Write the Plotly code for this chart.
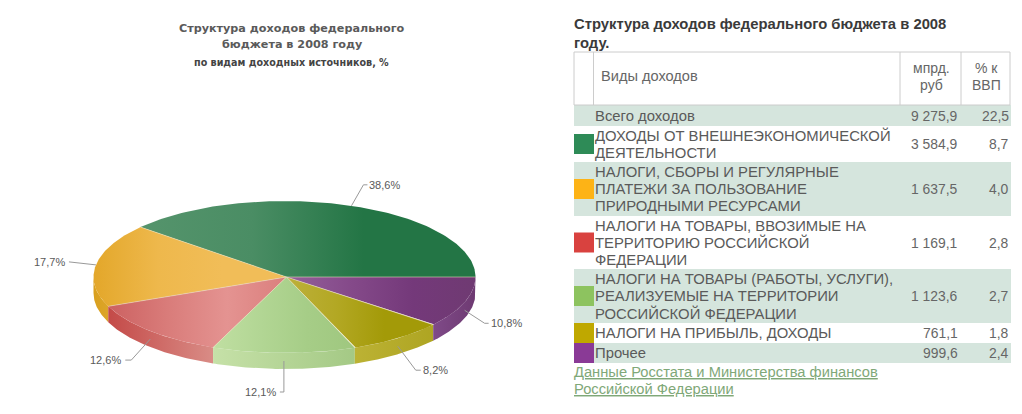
import numpy as np
import plotly.graph_objects as go

# pie data, percent of total revenue
shares = [38.6, 17.7, 12.6, 12.1, 8.2, 10.8]

# table data
table_title = ["Структура доходов федерального бюджета в 2008", "году."]
row_names = [
    ["Всего доходов"],
    ["ДОХОДЫ ОТ ВНЕШНЕЭКОНОМИЧЕСКОЙ", "ДЕЯТЕЛЬНОСТИ"],
    ["НАЛОГИ, СБОРЫ И РЕГУЛЯРНЫЕ", "ПЛАТЕЖИ ЗА ПОЛЬЗОВАНИЕ", "ПРИРОДНЫМИ РЕСУРСАМИ"],
    ["НАЛОГИ НА ТОВАРЫ, ВВОЗИМЫЕ НА", "ТЕРРИТОРИЮ РОССИЙСКОЙ", "ФЕДЕРАЦИИ"],
    ["НАЛОГИ НА ТОВАРЫ (РАБОТЫ, УСЛУГИ),", "РЕАЛИЗУЕМЫЕ НА ТЕРРИТОРИИ", "РОССИЙСКОЙ ФЕДЕРАЦИИ"],
    ["НАЛОГИ НА ПРИБЫЛЬ, ДОХОДЫ"],
    ["Прочее"],
]
row_bln = ["9 275,9", "3 584,9", "1 637,5", "1 169,1", "1 123,6", "761,1", "999,6"]
row_gdp = ["22,5", "8,7", "4,0", "2,8", "2,7", "1,8", "2,4"]

# layout: pie geometry in px, the apex sits a little right of the ellipse centre
cx, cy, rx, ry, depth = 284.5, 277, 191, 76, 16
apex_x = 286.5
FONT = "Liberation Sans"
GREY = "#5a5a5a"
PAGE_MARGIN = 8  # the page body keeps its default margin, so the axes start there

# (left colour, right colour) of the top face and of the wall
top_colors = [
    ["#55946c", "#4a8d64", "#237545", "#237545"],
    ["#e3a72a", "#eeb84c", "#f1bd58", "#f1bd58"],
    ["#cc6161", "#d97c7a", "#e49391", "#db7f7d"],
    ["#c0dfa2", "#b2d694", "#a6cd87", "#9fc77f"],
    ["#bdb03a", "#b3a824", "#a39a08", "#a39a08"],
    ["#93609a", "#854a8a", "#74397a", "#6f3a72"],
]
wall_colors = [
    ["#237545", "#237545"],
    ["#d9a01e", "#dca52a"],
    ["#c44a48", "#d98c86"],
    ["#c6e1a8", "#a4c985"],
    ["#bcb234", "#aea522"],
    ["#7f4a88", "#6e3a72"],
]
legend_colors = [None, "#2e8b57", "#fdb316", "#d9423f", "#8dc35f", "#bfa800", "#8a3a96"]

# elbow of each leader line, relative to the rim anchor, and label side
elbows = [(12, -21), (-25, -3), (-19, 21), (0, 31), (18, 24), (20, 13)]
tails = [4, -2, -6, -4, 5, 4]

fig = go.Figure()


def point(deg, drop=0):
    a = np.radians(deg)
    return cx + rx * np.cos(a), cy - ry * np.sin(a) + drop


def add_poly(xs, ys, colors):
    stops = [[i / (len(colors) - 1), c] for i, c in enumerate(colors)]
    fig.add_trace(go.Scatter(
        x=xs, y=ys, mode="lines", fill="toself", line=dict(width=0),
        fillgradient=dict(type="horizontal", colorscale=stops),
        hoverinfo="skip", showlegend=False,
    ))


edges = np.cumsum([0] + shares) * 3.6

# walls first, only the front half of the rim shows
for i in range(len(shares)):
    a0, a1 = max(edges[i], 180), min(edges[i + 1], 360)
    if a1 <= a0:
        continue
    t = np.linspace(a0, a1, 60)
    xs, ys = point(t)
    add_poly(np.r_[xs, xs[::-1], xs[0]], np.r_[ys, ys[::-1] + depth, ys[0]], wall_colors[i])

# top faces
for i in range(len(shares)):
    t = np.linspace(edges[i], edges[i + 1], 120)
    xs, ys = point(t)
    add_poly(np.r_[apex_x, xs, apex_x], np.r_[cy, ys, cy], top_colors[i])

# thin seam on the slice edges
for e in edges[:-1]:
    xe, ye = point(e)
    fig.add_trace(go.Scatter(
        x=[apex_x, xe], y=[cy, ye], mode="lines",
        line=dict(color="rgba(235,225,190,0.55)", width=1),
        hoverinfo="skip", showlegend=False,
    ))


def text(x, y, s, size=14.8, color=GREY, anchor="left", bold=False, family=FONT):
    if bold:
        s = "<b>" + s + "</b>"
    fig.add_annotation(
        x=x, y=y, text=s, showarrow=False, xanchor=anchor, yanchor="middle",
        align=anchor, borderpad=0,
        font=dict(family=family, size=size, color=color),
    )


# leader lines and pie labels
for i, v in enumerate(shares):
    mid = (edges[i] + edges[i + 1]) / 2
    drop = 8 if 180 < mid < 360 else 0
    x0, y0 = point(mid, drop)
    x1, y1 = x0 + elbows[i][0], y0 + elbows[i][1]
    x2 = x1 + tails[i]
    fig.add_trace(go.Scatter(
        x=[x0, x1, x2], y=[y0, y1, y1], mode="lines",
        line=dict(color="#999999", width=1), hoverinfo="skip", showlegend=False,
    ))
    side = "left" if tails[i] > 0 else "right"
    text(x2 + (1 if tails[i] > 0 else -3), y1, f"{v:.1f}%".replace(".", ","), size=11, anchor=side)

# chart title
text(292, 28.5, "Структура доходов федерального", size=11.2, bold=True, anchor="center", family="DejaVu Sans")
text(292, 44, "бюджета в 2008 году", size=11.2, bold=True, anchor="center", family="DejaVu Sans")
text(291, 62.5, "по видам доходных источников, %", size=9.6, bold=True, color="#444444", anchor="center", family="DejaVu Sans")

# table title
text(573, 24, table_title[0], size=14.8, bold=True, color="#3a3a3a")
text(573, 42.5, table_title[1], size=14.8, bold=True, color="#3a3a3a")

# header box
col_lines = [574, 593.5, 900, 961, 1010]
head_top, head_bottom = 52, 105
for xl in col_lines:
    fig.add_shape(type="line", x0=xl, x1=xl, y0=head_top, y1=head_bottom, line=dict(color="#cccccc", width=1))
for yl in (head_top, head_bottom):
    fig.add_shape(type="line", x0=574, x1=1010, y0=yl, y1=yl, line=dict(color="#cccccc", width=1))
text(599.5, 76, "Виды доходов", size=14.6, color="#666666")
text(931, 68, "мпрд.", size=14, color="#666666", anchor="center")
text(931, 85, "руб", size=14, color="#666666", anchor="center")
text(986, 68, "% к", size=14, color="#666666", anchor="center")
text(986, 85, "ВВП", size=14, color="#666666", anchor="center")

# table rows
row_edges = [105, 126, 162, 216, 269, 323, 343, 363]
for r, lines in enumerate(row_names):
    top, bottom = row_edges[r], row_edges[r + 1]
    mid = (top + bottom) / 2
    if r % 2 == 0:
        fig.add_shape(type="rect", x0=574, x1=1011, y0=top, y1=bottom,
                      fillcolor="#d5e5dd", line=dict(width=0), layer="below")
    if legend_colors[r]:
        fig.add_shape(type="rect", x0=574, x1=594, y0=mid - 10, y1=mid + 10,
                      fillcolor=legend_colors[r], line=dict(width=0))
    for j, line in enumerate(lines):
        text(594, mid + (j - (len(lines) - 1) / 2) * 17, line, size=14.85)
    text(958.5, mid, row_bln[r], size=13.9, anchor="right", color="#666666")
    text(1009.5, mid, row_gdp[r], size=13.9, anchor="right", color="#666666")

# source links
text(573, 372, "<u>Данные Росстата и Министерства финансов</u>", size=14.7, color="#7fa878")
text(573, 389, "<u>Российской Федерации</u>", size=14.7, color="#7fa878")

fig.update_layout(
    width=1022 - PAGE_MARGIN, height=414 - PAGE_MARGIN, margin=dict(l=0, r=0, t=0, b=0),
    paper_bgcolor="white", plot_bgcolor="white", showlegend=False,
    xaxis=dict(range=[PAGE_MARGIN, 1022], visible=False, fixedrange=True),
    yaxis=dict(range=[414, PAGE_MARGIN], visible=False, fixedrange=True),
)
fig.write_html("out.html", config=dict(displayModeBar=False))
